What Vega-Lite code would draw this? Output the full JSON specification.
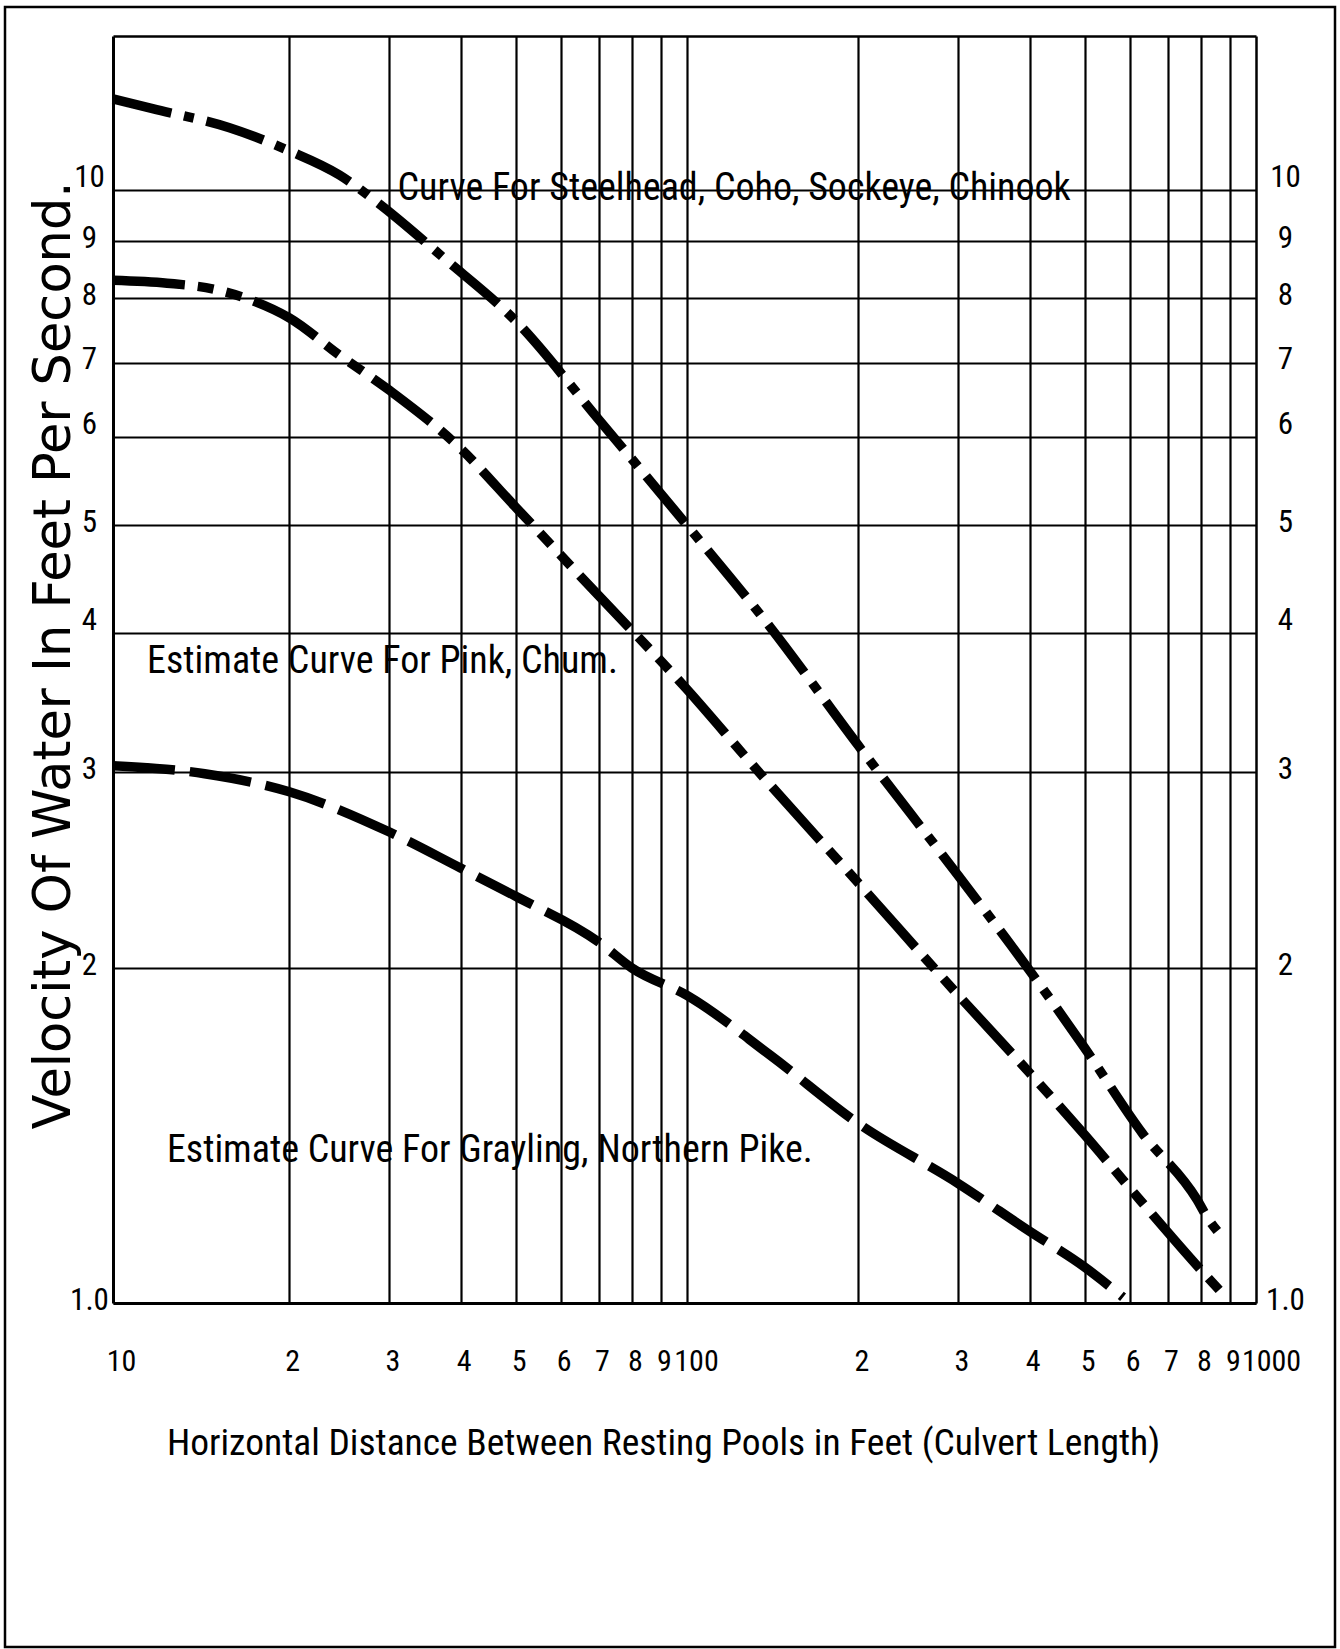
{
  "$schema": "https://vega.github.io/schema/vega-lite/v6.json",
  "width": 1330,
  "height": 1640,
  "autosize": {"type": "none"},
  "padding": {"left": 5, "top": 7, "right": 5, "bottom": 2},
  "background": "white",
  "config": {
    "view": {"stroke": "black", "strokeWidth": 2.5, "fill": "white"},
    "axis": {"domainColor": "black", "gridColor": "black", "gridOpacity": 1, "labelColor": "black", "titleColor": "black", "tickColor": "black"}
  },
  "datasets": {
    "curves": [
      {"curve": "steelhead", "distance": 9.8, "velocity": 12.08},
      {"curve": "steelhead", "distance": 11.5, "velocity": 11.84},
      {"curve": "steelhead", "distance": 15.7, "velocity": 11.38},
      {"curve": "steelhead", "distance": 20, "velocity": 10.85},
      {"curve": "steelhead", "distance": 24.5, "velocity": 10.32},
      {"curve": "steelhead", "distance": 28.5, "velocity": 9.76},
      {"curve": "steelhead", "distance": 37.3, "velocity": 8.7},
      {"curve": "steelhead", "distance": 50, "velocity": 7.63},
      {"curve": "steelhead", "distance": 70, "velocity": 6.22},
      {"curve": "steelhead", "distance": 100, "velocity": 5.0},
      {"curve": "steelhead", "distance": 140, "velocity": 4.05},
      {"curve": "steelhead", "distance": 200, "velocity": 3.17},
      {"curve": "steelhead", "distance": 300, "velocity": 2.42},
      {"curve": "steelhead", "distance": 400, "velocity": 1.99},
      {"curve": "steelhead", "distance": 500, "velocity": 1.695},
      {"curve": "steelhead", "distance": 632, "velocity": 1.42},
      {"curve": "steelhead", "distance": 788, "velocity": 1.238},
      {"curve": "steelhead", "distance": 820, "velocity": 1.195},
      {"curve": "steelhead", "distance": 868, "velocity": 1.15},
      {"curve": "pink", "distance": 9.8, "velocity": 8.3},
      {"curve": "pink", "distance": 12.2, "velocity": 8.25},
      {"curve": "pink", "distance": 14.9, "velocity": 8.14},
      {"curve": "pink", "distance": 17.1, "velocity": 7.97},
      {"curve": "pink", "distance": 20, "velocity": 7.68},
      {"curve": "pink", "distance": 24.5, "velocity": 7.11},
      {"curve": "pink", "distance": 30, "velocity": 6.61},
      {"curve": "pink", "distance": 40, "velocity": 5.86},
      {"curve": "pink", "distance": 50, "velocity": 5.19},
      {"curve": "pink", "distance": 70, "velocity": 4.32},
      {"curve": "pink", "distance": 100, "velocity": 3.56},
      {"curve": "pink", "distance": 130, "velocity": 3.05},
      {"curve": "pink", "distance": 200, "velocity": 2.385},
      {"curve": "pink", "distance": 300, "velocity": 1.89},
      {"curve": "pink", "distance": 400, "velocity": 1.61},
      {"curve": "pink", "distance": 500, "velocity": 1.416},
      {"curve": "pink", "distance": 625, "velocity": 1.238},
      {"curve": "pink", "distance": 830, "velocity": 1.049},
      {"curve": "pink", "distance": 878, "velocity": 1.017},
      {"curve": "grayling", "distance": 9.8, "velocity": 3.04},
      {"curve": "grayling", "distance": 14.2, "velocity": 2.99},
      {"curve": "grayling", "distance": 20, "velocity": 2.88},
      {"curve": "grayling", "distance": 30, "velocity": 2.65},
      {"curve": "grayling", "distance": 40, "velocity": 2.46},
      {"curve": "grayling", "distance": 50, "velocity": 2.32},
      {"curve": "grayling", "distance": 70, "velocity": 2.11},
      {"curve": "grayling", "distance": 80, "velocity": 2.0},
      {"curve": "grayling", "distance": 100, "velocity": 1.89},
      {"curve": "grayling", "distance": 140, "velocity": 1.67},
      {"curve": "grayling", "distance": 200, "velocity": 1.45},
      {"curve": "grayling", "distance": 300, "velocity": 1.28},
      {"curve": "grayling", "distance": 400, "velocity": 1.16},
      {"curve": "grayling", "distance": 500, "velocity": 1.077},
      {"curve": "grayling", "distance": 584, "velocity": 1.012}
    ],
    "notes": [
      {"note": "Curve For Steelhead, Coho, Sockeye, Chinook", "distance": 31.0, "velocity": 9.8},
      {"note": "Estimate Curve For Pink, Chum.", "distance": 11.25, "velocity": 3.68},
      {"note": "Estimate Curve For Grayling, Northern Pike.", "distance": 12.19, "velocity": 1.339}
    ]
  },
  "layer": [
    {
      "data": {"name": "curves"},
      "mark": {"type": "line", "color": "black", "strokeWidth": 9.5, "interpolate": "monotone", "strokeCap": "butt"},
      "encoding": {
        "x": {
          "field": "distance", "type": "quantitative",
          "scale": {"type": "log", "domain": [9.8, 1000], "range": [108, 1251], "nice": false},
          "axis": {
            "orient": "bottom", "offset": -344,
            "values": [10, 20, 30, 40, 50, 60, 70, 80, 90, 100, 200, 300, 400, 500, 600, 700, 800, 900, 1000],
            "format": "d",
            "labelExpr": "datum.value == 10 || datum.value == 100 || datum.value == 1000 ? datum.label : datum.value < 100 ? format(datum.value / 10, 'd') : format(datum.value / 100, 'd')",
            "grid": false, "ticks": false, "tickSize": 0,
            "domain": true, "domainWidth": 3,
            "labelFont": "Roboto Condensed, DejaVu Sans Condensed, sans-serif",
            "labelFontSize": 30, "labelPadding": 43, "labelBaseline": "top", "labelAlign": "center",
            "labelOffset": {"condition": [{"test": "datum.value == 1000", "value": 15}, {"test": "datum.value == 100", "value": 9}], "value": 3},
            "labelFlush": false, "labelOverlap": false, "labelBound": false,
            "title": "Horizontal Distance Between Resting Pools in Feet (Culvert Length)",
            "titleFont": "Roboto Condensed, DejaVu Sans Condensed, sans-serif",
            "titleFontSize": 37.5, "titleFontWeight": "normal",
            "titleX": 658, "titleY": 151, "titleAlign": "center", "titleBaseline": "alphabetic"
          }
        },
        "y": {
          "field": "velocity", "type": "quantitative",
          "scale": {"type": "log", "domain": [1, 13.76], "range": [1296, 29], "nice": false},
          "axis": {
            "orient": "left", "offset": -108,
            "values": [1, 2, 3, 4, 5, 6, 7, 8, 9, 10],
            "format": "d",
            "labelExpr": "datum.value == 1 ? '1.0' : datum.label",
            "grid": true, "gridWidth": 2.2,
            "ticks": false, "tickSize": 0,
            "domain": true, "domainWidth": 3,
            "labelFont": "Roboto Condensed, DejaVu Sans Condensed, sans-serif",
            "labelFontSize": 31, "labelPadding": 24, "labelAlign": "center", "labelBaseline": "middle",
            "labelOffset": {"condition": {"test": "datum.value == 10 || datum.value == 4 || datum.value == 6", "value": -13}, "value": -3},
            "labelOverlap": false, "labelBound": false, "labelFlush": false,
            "title": "Velocity Of Water In Feet Per Second.",
            "titleFont": "DejaVu Sans, sans-serif", "titleFontSize": 51, "titleFontWeight": "normal",
            "titleX": -44, "titleY": 648, "titleAlign": "center", "titleBaseline": "alphabetic", "titleAngle": -90
          }
        },
        "strokeDash": {
          "field": "curve", "type": "nominal",
          "scale": {"domain": ["steelhead", "pink", "grayling"], "range": [[60, 13, 10, 13], [72, 13, 16, 13, 16, 13], [62, 15]]},
          "legend": null
        }
      }
    },
    {
      "data": {"name": "notes"},
      "mark": {"type": "text", "align": "left", "baseline": "alphabetic", "font": "Roboto Condensed, DejaVu Sans Condensed, sans-serif", "fontSize": 38, "color": "black"},
      "encoding": {
        "x": {
          "field": "distance", "type": "quantitative",
          "scale": {"type": "log", "domain": [9.8, 1000], "range": [108, 1251], "nice": false},
          "axis": {
            "orient": "top", "offset": -29,
            "values": [20, 30, 40, 50, 60, 70, 80, 90, 100, 200, 300, 400, 500, 600, 700, 800, 900],
            "grid": true, "gridWidth": 2.2,
            "labels": false, "ticks": false, "tickSize": 0,
            "domain": true, "domainWidth": 2.5,
            "title": null
          }
        },
        "y": {
          "field": "velocity", "type": "quantitative",
          "scale": {"type": "log", "domain": [1, 13.76], "range": [1296, 29], "nice": false},
          "axis": {
            "orient": "right", "offset": -79,
            "values": [1, 2, 3, 4, 5, 6, 7, 8, 9, 10],
            "format": "d",
            "labelExpr": "datum.value == 1 ? '1.0' : datum.label",
            "grid": false, "ticks": false, "tickSize": 0,
            "domain": true, "domainWidth": 2.5,
            "labelFont": "Roboto Condensed, DejaVu Sans Condensed, sans-serif",
            "labelFontSize": 31, "labelPadding": 29, "labelAlign": "center", "labelBaseline": "middle",
            "labelOffset": {"condition": {"test": "datum.value == 10 || datum.value == 4 || datum.value == 6", "value": -13}, "value": -3},
            "labelOverlap": false, "labelBound": false, "labelFlush": false,
            "title": null
          }
        },
        "text": {"field": "note", "type": "nominal"}
      }
    }
  ],
  "resolve": {"axis": {"x": "independent", "y": "independent"}}
}
